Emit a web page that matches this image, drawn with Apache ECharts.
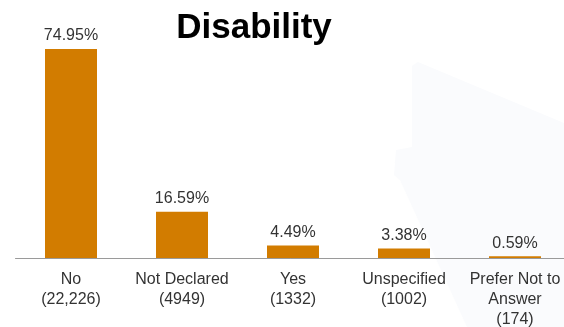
<!DOCTYPE html>
<html>
<head>
<meta charset="utf-8">
<script src="https://cdn.jsdelivr.net/npm/echarts@6/dist/echarts.min.js"></script>
<style>html,body{margin:0;padding:0;background:#fff;}#c{width:564px;height:327px;}</style>
</head>
<body>
<div id="c"></div>
<script>
const categories = ["No", "Not Declared", "Yes", "Unspecified", "Prefer Not to\nAnswer"];
const counts = ["22,226", "4949", "1332", "1002", "174"];
const percents = [74.95, 16.59, 4.49, 3.38, 0.59];

const chart = echarts.init(document.getElementById('c'), null, {renderer: 'canvas'});
chart.setOption({
  backgroundColor: '#ffffff',
  animation: false,
  title: {
    text: 'Disability',
    left: 249, top: 6, textAlign: 'center',
    textStyle: {fontFamily: 'Liberation Sans, Arial', fontWeight: 'bold', fontSize: 35, color: '#000'}
  },
  graphic: [{
    type: 'polygon', z: -10, silent: true,
    shape: {points: [[412,66],[418,62],[564,123],[564,327],[467,327],[400,180],[394,175],[396,150],[412,147]]},
    style: {fill: '#fafbfd'}
  }],
  grid: {left: 15.5, width: 555, top: 35, bottom: 69, containLabel: false, outerBoundsMode: 'none'},
  xAxis: {
    type: 'category',
    data: categories.map((c, i) => c + '\n(' + counts[i] + ')'),
    axisLine: {show: true, lineStyle: {color: '#9a9a9a', width: 1}},
    axisTick: {show: false},
    axisLabel: {interval: 0, margin: 12, fontFamily: 'Liberation Sans, Arial', fontSize: 16, lineHeight: 20, color: '#333'}
  },
  yAxis: {type: 'value', min: 0, max: 80, show: false, splitLine: {show: false}},
  series: [{
    type: 'bar',
    data: percents,
    barWidth: 52,
    itemStyle: {color: '#d27c00'},
    label: {
      show: true, position: 'top', distance: 5,
      formatter: p => p.value.toFixed(2) + '%',
      fontFamily: 'Liberation Sans, Arial', fontSize: 16, color: '#333'
    }
  }]
});
</script>
</body>
</html>
